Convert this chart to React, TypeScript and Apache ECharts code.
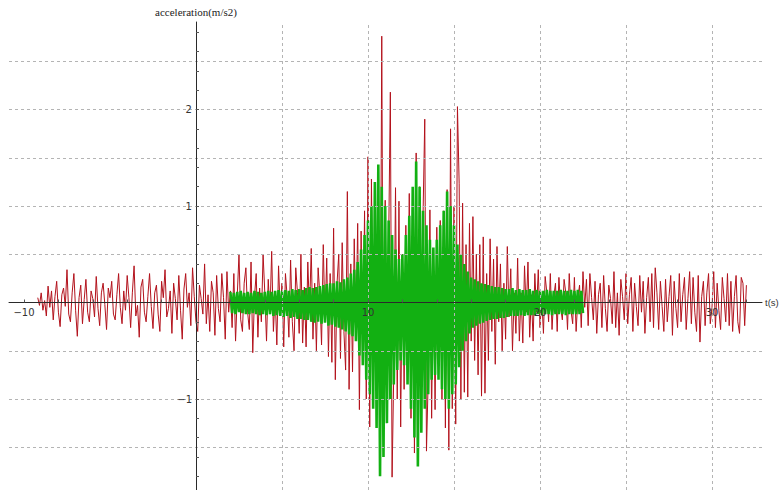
import React, { useEffect, useRef } from "react";
import * as echarts from "echarts";

// ---- data ----
const RED_START = -9.2; // s
const RED_STEP = 0.1; // s
const RED_VALUES = [
  0.05, -0.03, 0.1, -0.08, 0.02, -0.14, 0.17, -0.05, 0.12, -0.18,
  0.06, 0.22, -0.1, -0.25, 0.08, 0.15, -0.04, 0.34, -0.12, -0.2,
  0.1, 0.3, -0.08, -0.35, 0.05, 0.18, -0.22, 0.03, 0.24, -0.1,
  -0.2, 0.12, 0.04, -0.15, 0.27, -0.06, -0.24, 0.1, 0.2, -0.02,
  -0.28, 0.15, 0.05, 0.22, -0.12, -0.18, 0.08, 0.3, -0.05, -0.22,
  0.12, -0.08, 0.28, 0.05, -0.26, 0.1, 0.38, -0.14, -0.03, -0.36,
  0.16, 0.24, -0.1, -0.2, 0.06, 0.3, -0.04, -0.27, 0.1, 0.18,
  -0.12, -0.3, 0.22, 0.05, 0.34, -0.15, -0.06, 0.12, -0.32, 0.2,
  0.04, -0.18, 0.28, -0.08, -0.38, 0.14, 0.3, -0.05, 0.1, -0.24,
  0.36, 0.06, -0.2, -0.3, 0.18, 0.04, -0.12, 0.4, -0.22, 0.08,
  -0.3, 0.22, 0.1, -0.34, 0.28, -0.06, -0.2, 0.3, 0.05, -0.38,
  0.32, -0.1, 0.12, -0.26, 0.3, -0.4, 0.08, 0.5, -0.18, -0.3,
  0.2, 0.36, -0.1, -0.28, 0.42, -0.52, 0.06, 0.3, -0.36, 0.15,
  -0.2, 0.5, 0.1, -0.4, 0.24, -0.12, 0.53, -0.3, 0.08, -0.44,
  0.38, -0.1, 0.2, -0.46, 0.3, 0.06, -0.36, 0.44, -0.2, -0.5,
  0.36, 0.1, -0.32, 0.5, -0.42, 0.16, -0.46, 0.42, -0.1, 0.56,
  -0.38, 0.2, -0.5, 0.36, 0.08, -0.44, 0.6, -0.2, 0.46, -0.56,
  0.3, -0.62, 0.77, -0.8, 0.2, 0.5, -0.58, 0.62, -0.3, -0.7,
  1.15, -0.9, 0.4, -0.72, 0.66, -0.3, 0.82, -1.11, 0.74, -0.6,
  0.95, -1.0, 1.51, -1.29, 1.28, -0.6, 0.9, -1.2, 1.1, -1.3,
  2.76, -1.42, 1.06, -1.15, 0.6, 2.18, -1.81, -0.7, 1.19, -1.0,
  1.05, -1.29, 0.5, -0.9, 0.8, -0.6, 1.13, -1.2, 0.7, -1.56,
  1.55, -1.3, 1.2, -0.8, 0.9, 1.9, -1.54, -0.8, 0.96, -1.2,
  0.5, -1.11, 0.78, -0.6, 0.85, -1.0, 0.95, -1.3, 1.17, -1.53,
  1.8, -1.1, 1.0, -1.26, 2.03, 1.23, -1.0, 1.03, -0.93, 0.6,
  -0.98, 0.82, -0.4, 0.89, -0.6, 0.5, -0.75, 0.6, -0.97, 0.68,
  -0.94, 0.3, -0.6, 0.66, -0.3, 0.45, -0.64, 0.58, -0.2, 0.4,
  -0.5, 0.2, -0.38, 0.58, -0.15, 0.35, -0.5, 0.1, -0.32, 0.46,
  -0.4, 0.1, -0.42, 0.38, -0.1, 0.42, -0.36, 0.08, -0.4, 0.3,
  -0.1, 0.34, -0.26, 0.05, -0.32, 0.27, 0.1, -0.2, 0.3, -0.28,
  0.06, 0.2, -0.3, 0.26, -0.05, -0.18, 0.24, 0.1, -0.28, 0.3,
  -0.08, -0.22, 0.26, -0.3, 0.04, 0.18, -0.26, 0.32, -0.05, 0.24,
  -0.24, 0.3, 0.05, -0.18, 0.22, -0.32, 0.08, 0.2, -0.26, 0.28,
  -0.06, -0.3, 0.18, 0.04, -0.22, 0.32, -0.26, 0.1, -0.34, 0.24,
  0.06, -0.18, 0.3, -0.22, 0.08, 0.26, -0.3, 0.2, -0.04, -0.24,
  0.28, -0.1, 0.22, -0.32, 0.05, 0.26, -0.2, 0.3, -0.26, 0.36,
  0.1, -0.28, 0.22, -0.04, -0.3, 0.24, -0.2, 0.06, 0.28, -0.34,
  0.22, -0.06, -0.26, 0.3, -0.2, 0.08, 0.26, -0.28, 0.04, 0.32,
  -0.22, 0.26, -0.1, -0.3, 0.28, -0.41, 0.06, 0.22, -0.24, 0.1,
  0.3, -0.22, -0.05, 0.32, -0.26, 0.2, -0.08, -0.28, 0.26, 0.04,
  -0.2, 0.3, -0.24, 0.22, -0.3, 0.06, 0.28, -0.2, -0.32, 0.26,
  0.2, -0.24, 0.18,
];

const GREEN_START = 2.0; // s
const GREEN_STEP = 0.1; // s
const GREEN_VALUES = [
  0.11, -0.11, 0.1, -0.12, 0.11, -0.1, 0.12, -0.11, 0.1, -0.12,
  0.11, -0.12, 0.1, -0.11, 0.12, -0.12, 0.11, -0.13, 0.1, -0.12,
  0.11, -0.13, 0.12, -0.12, 0.11, -0.14, 0.12, -0.13, 0.13, -0.14,
  0.12, -0.15, 0.13, -0.14, 0.12, -0.16, 0.14, -0.15, 0.13, -0.17,
  0.14, -0.17, 0.13, -0.18, 0.15, -0.18, 0.16, -0.2, 0.15, -0.21,
  0.16, -0.2, 0.17, -0.22, 0.18, -0.21, 0.19, -0.24, 0.2, -0.23,
  0.2, -0.25, 0.22, -0.26, 0.21, -0.28, 0.24, -0.3, 0.26, -0.33,
  0.3, -0.35, 0.34, -0.4, 0.42, -0.55, 0.55, -0.65, 0.7, -0.8,
  0.85, -0.95, 1.0, -1.1, 1.25, -1.3, 1.43, -1.8, 1.2, -1.6,
  1.0, -1.25, 0.85, -1.0, 0.7, -0.85, 0.55, -0.7, 0.45, -0.6,
  0.5, -0.65, 0.7, -0.85, 0.9, -1.1, 1.2, -1.4, 1.46, -1.7,
  1.2, -1.35, 0.95, -1.1, 0.8, -0.95, 0.65, -0.8, 0.57, -0.75,
  0.65, -0.8, 0.8, -0.9, 0.95, -1.0, 1.15, -1.1, 1.0, -0.95,
  0.8, -0.85, 0.6, -0.67, 0.5, -0.5, 0.4, -0.4, 0.32, -0.32,
  0.26, -0.26, 0.24, -0.24, 0.22, -0.22, 0.2, -0.21, 0.19, -0.19,
  0.18, -0.18, 0.17, -0.17, 0.16, -0.17, 0.16, -0.16, 0.15, -0.16,
  0.14, -0.15, 0.14, -0.14, 0.15, -0.14, 0.13, -0.14, 0.14, -0.13,
  0.13, -0.14, 0.13, -0.13, 0.14, -0.13, 0.12, -0.13, 0.13, -0.12,
  0.12, -0.13, 0.12, -0.12, 0.13, -0.12, 0.12, -0.13, 0.12, -0.12,
  0.12, -0.12, 0.13, -0.12, 0.12, -0.13, 0.12, -0.12, 0.13, -0.12,
  0.12, -0.12, 0.13, -0.12, 0.12, -0.11,
];

const X_LABELS = [-10, 10, 20, 30];
const X_TICKS = [-10, -8, -6, -4, -2, 2, 4, 6, 8, 10, 12, 14, 16, 18, 20, 22, 24, 26, 28, 30, 32];
const Y_LABELS = [-1, 1, 2];
const Y_TICKS = [-1.8, -1.6, -1.4, -1.2, -1, -0.8, -0.6, -0.4, -0.2, 0.2, 0.4, 0.6, 0.8, 1, 1.2, 1.4, 1.6, 1.8, 2, 2.2, 2.4, 2.6, 2.8];
const X_GRID = [5, 10, 15, 20, 25, 30];
const Y_GRID = [-1.5, -1, -0.5, 0.5, 1, 1.5, 2, 2.5];

const X_MIN = -10.872;
const X_MAX = 32.907;
const Y_MIN = -1.943;
const Y_MAX = 2.907;

const GRID_LEFT = 9;
const GRID_TOP = 22;
const GRID_W = 753;
const GRID_H = 468;

const fmt = (v: number) => (v < 0 ? "\u2212" + Math.abs(v) : String(v));

export default function App() {
  const ref = useRef<HTMLDivElement>(null);
  useEffect(() => {
    if (!ref.current) return;
    const chart = echarts.init(ref.current, null, { renderer: "svg" });
    const red = RED_VALUES.map((v, i) => [+(RED_START + i * RED_STEP).toFixed(3), v]);
    const green = GREEN_VALUES.map((v, i) => [+(GREEN_START + i * GREEN_STEP).toFixed(3), v]);
    const gridLine = { color: "#b4b4b4", width: 1, type: [3, 3] as any };
    chart.setOption({
      animation: false,
      backgroundColor: "#ffffff",
      grid: {
        left: GRID_LEFT,
        top: GRID_TOP,
        width: GRID_W,
        height: GRID_H,
        containLabel: false,
        outerBoundsMode: "none",
      },
      xAxis: {
        type: "value",
        z: 6,
        min: X_MIN,
        max: X_MAX,
        position: "bottom",
        offset: 0,
        name: "t(s)",
        nameLocation: "end",
        nameGap: 3,
        nameTextStyle: { fontFamily: "Liberation Sans", fontSize: 9.5, color: "#333" },
        axisLine: { onZero: false, lineStyle: { color: "#2a2a2a", width: 1 } },
        axisTick: { show: true, inside: true, length: 3, customValues: X_TICKS, lineStyle: { color: "#555" } },
        axisLabel: {
          customValues: X_LABELS,
          formatter: fmt,
          fontFamily: "DejaVu Sans",
          fontSize: 10,
          color: "#333",
          margin: 5,
        },
        splitLine: { show: false },
      },
      yAxis: {
        type: "value",
        z: 6,
        min: Y_MIN,
        max: Y_MAX,
        position: "left",
        offset: 0,
        name: "acceleration(m/s2)",
        nameLocation: "end",
        nameGap: 5,
        nameTextStyle: {
          fontFamily: "Liberation Serif",
          fontSize: 11,
          color: "#222",
        },
        axisLine: { onZero: false, lineStyle: { color: "#2a2a2a", width: 1 } },
        axisTick: { show: true, inside: true, length: 3, customValues: Y_TICKS, lineStyle: { color: "#555" } },
        axisLabel: {
          customValues: Y_LABELS,
          formatter: fmt,
          fontFamily: "DejaVu Sans",
          fontSize: 10,
          color: "#333",
          margin: 4,
        },
        splitLine: { show: false },
      },
      series: [
        {
          type: "line",
          data: [],
          z: 1,
          silent: true,
          markLine: {
            silent: true,
            symbol: ["none", "none"],
            label: { show: false },
            lineStyle: gridLine,
            data: [
              ...X_GRID.map((x) => ({ xAxis: x })),
              ...Y_GRID.map((y) => ({ yAxis: y })),
            ],
          },
        },
        {
          type: "line",
          data: red,
          z: 2,
          showSymbol: false,
          symbol: "none",
          lineStyle: { color: "#b3121c", width: 1 },
          silent: true,
        },
        {
          type: "line",
          data: green,
          z: 3,
          showSymbol: false,
          symbol: "none",
          lineStyle: { color: "#12b012", width: 2.6 },
          silent: true,
        },
      ],
    });
    // move both axes (line, ticks, labels, name) so that they cross at (0, 0)
    const p = chart.convertToPixel({ gridIndex: 0 }, [0, 0]) as number[];
    chart.setOption({
      xAxis: { offset: -(GRID_TOP + GRID_H - p[1]) },
      yAxis: { offset: GRID_LEFT - p[0] },
    });
    return () => chart.dispose();
  }, []);
  return (
    <div
      ref={ref}
      style={{ position: "fixed", left: 0, top: 0, width: 779, height: 490, background: "#fff" }}
    />
  );
}
